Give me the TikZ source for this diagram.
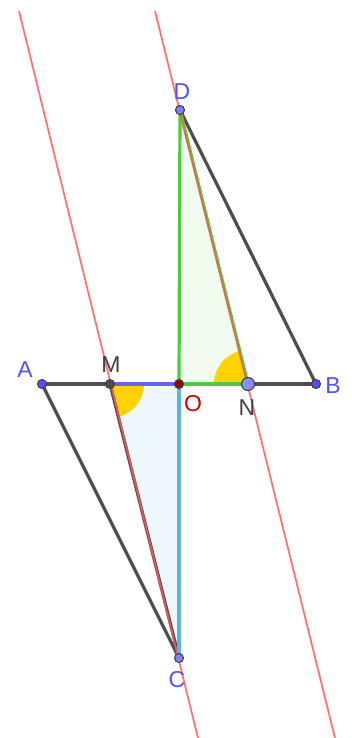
\documentclass[tikz,border=0pt]{standalone}
\usepackage{fontspec}
\setmainfont{Liberation Sans}
\definecolor{segg}{HTML}{4D4D4D}
\definecolor{redl}{HTML}{FF5A5A}
\definecolor{grn}{HTML}{4CCB3C}
\definecolor{grnfill}{HTML}{F0FAEF}
\definecolor{bluefill}{HTML}{EEF7FC}
\definecolor{blu}{HTML}{6464F0}
\definecolor{cyn}{HTML}{5AB4DC}
\definecolor{ang}{HTML}{FFD200}
\definecolor{lblue}{HTML}{5050FF}
\definecolor{lgray}{HTML}{404040}
\definecolor{lred}{HTML}{CC0000}
\tikzset{
  seg/.style={draw=segg,line width=3.2pt},
  colseg/.style={line width=3.2pt},
  redline/.style={draw=redl,line width=1.8pt,opacity=0.85},
  pt/.style={circle,inner sep=0pt,minimum size=9pt,draw=black!75,line width=1.1pt},
  lbl/.style={font=\fontsize{23}{23}\selectfont,inner sep=0pt}
}
\begin{document}
\begin{tikzpicture}[x=1pt,y=-1pt]
\useasboundingbox (0,0) rectangle (352,738);
\coordinate (A) at (42,384);
\coordinate (B) at (316,384);
\coordinate (M) at (110,384);
\coordinate (O) at (179,384);
\coordinate (N) at (248,384);
\coordinate (D) at (180,110);
\coordinate (C) at (179,658);
\coordinate (r1t) at (19,11);
\coordinate (r1b) at (198,738);
\coordinate (r2t) at (155,11);
\coordinate (r2b) at (335,738);
% fills
\fill[grnfill] (D) -- (O) -- (N) -- cycle;
\fill[bluefill] (M) -- (O) -- (C) -- cycle;
% angles
\fill[ang] (M) -- ++(0:34) arc[start angle=0,end angle=76,radius=34] -- cycle;
\fill[ang] (N) -- ++(180:34) arc[start angle=180,end angle=256,radius=34] -- cycle;
% gray segments
\draw[seg] (A) -- (B);
\draw[seg] (A) -- (C);
\draw[seg] (D) -- (B);
\draw[seg] (M) -- (C);
% colored segments
\draw[grn,colseg] (D) -- (O);
\draw[grn,colseg] (O) -- (N);
\draw[grn,colseg] (D) -- (N);
\draw[blu,colseg] (M) -- (O);
\draw[cyn,colseg] (O) -- (C);
% red lines
\draw[redline] (r1t) -- (r1b);
\draw[redline] (r2t) -- (r2b);
% points
\node[pt,fill=lblue] (pA) at (A) {};
\node[pt,fill=lblue] (pB) at (B) {};
\node[pt,fill=black!70] (pM) at (M) {};
\node[pt,fill=red!60!black] (pO) at (O) {};
\node[pt,fill=blue!45!white,minimum size=13pt] (pN) at (N) {};
\node[pt,fill=blue!50!white] (pD) at (D) {};
\node[pt,fill=blue!50!white] (pC) at (C) {};
% labels
\node[lbl,text=lblue] (tA) at (25,370) {A};
\node[lbl,text=lgray] (tM) at (111,365) {M};
\node[lbl,text=lred] (tO) at (193,404) {O};
\node[lbl,text=lgray] (tN) at (247,408) {N};
\node[lbl,text=lblue] (tB) at (333,386) {B};
\node[lbl,text=lblue] (tD) at (182,92) {D};
\node[lbl,text=lblue] (tC) at (177,680) {C};
\end{tikzpicture}
\end{document}
